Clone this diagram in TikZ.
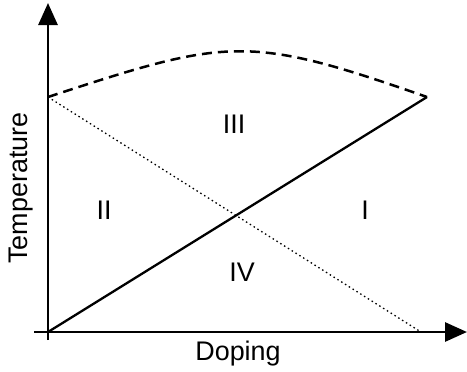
\documentclass[tikz,border=0pt]{standalone}
\usepackage{fontspec}
\setmainfont{Liberation Sans}
\usetikzlibrary{arrows.meta}
\begin{document}
\begin{tikzpicture}[x=1bp,y=-1bp,
  axis/.style={line width=2.8bp,-{Triangle[length=22bp,width=19bp]}},
  solidline/.style={line width=2.3bp},
  dottedline/.style={line width=1.3bp,dash pattern=on 1.5bp off 3bp},
  dashedline/.style={line width=2.5bp,dash pattern=on 10bp off 6bp},
  lbl/.style={font=\fontsize{27}{32}\selectfont,inner sep=0pt}]
\useasboundingbox (0,0) rectangle (467,371);
\coordinate (yb) at (48,340);
\coordinate (yt) at (48,3);
\coordinate (xl) at (34,332);
\coordinate (xr) at (467,332);
\coordinate (O) at (48,332);
\coordinate (TL) at (48,97);
\coordinate (TR) at (427,97);
\coordinate (BR) at (421,332);
\draw[axis] (yb) -- (yt);
\draw[axis] (xl) -- (xr);
\draw[solidline] (O) -- (TR);
\draw[dottedline] (TL) -- (BR);
\draw[dashedline] (TL) .. controls (228,38) and (247,34) .. (TR);
\node[lbl] (r3) at (234,124) {III};
\node[lbl] (r2) at (104,210) {II};
\node[lbl] (r1) at (365,210) {I};
\node[lbl] (r4) at (242,272) {IV};
\node[lbl,rotate=90] (ylab) at (21,188) {Temperature};
\node[lbl] (xlab) at (238,354) {Doping};
\end{tikzpicture}
\end{document}
